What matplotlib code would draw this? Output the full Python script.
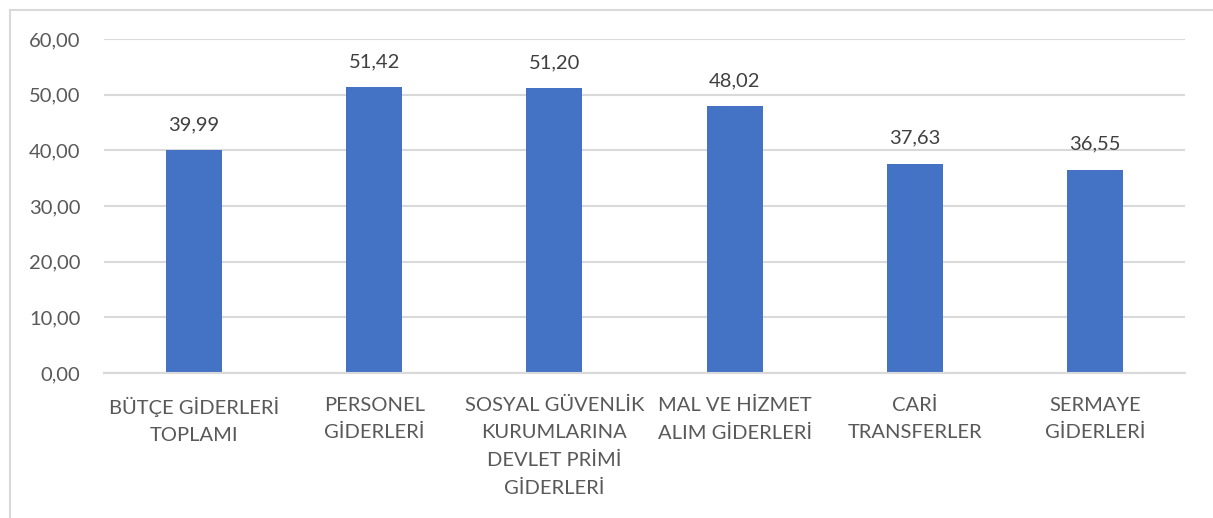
""" Bar chart of expenditure realisation rates by budget item. """

import matplotlib.pyplot as plt
from matplotlib.lines import Line2D

# Data
categories = [
    "BÜTÇE GİDERLERİ\nTOPLAMI",
    "PERSONEL\nGİDERLERİ",
    "SOSYAL GÜVENLİK\nKURUMLARINA\nDEVLET PRİMİ\nGİDERLERİ",
    "MAL VE HİZMET\nALIM GİDERLERİ",
    "CARİ\nTRANSFERLER",
    "SERMAYE\nGİDERLERİ",
]
values = [39.99, 51.42, 51.20, 48.02, 37.63, 36.55]
y_ticks = [0, 10, 20, 30, 40, 50, 60]

plt.rcParams["font.family"] = ["Lato", "DejaVu Sans"]

fig = plt.figure(figsize=(12.13, 5.18), dpi=100)
ax = fig.add_axes([104 / 1213, 1 - 373 / 518, (1185 - 104) / 1213, (373 - 39) / 518])

x = list(range(len(categories)))
bars = ax.bar(x, values, width=0.31, color="#4472C4", zorder=2)

# Data labels with comma decimal separator
for rect, v in zip(bars, values):
    ax.annotate(f"{v:.2f}".replace(".", ","),
                (rect.get_x() + rect.get_width() / 2, rect.get_height()),
                xytext=(0, 12), textcoords="offset points",
                ha="center", va="bottom", fontsize=14.5, color="#404040")

# Axes formatting
ax.set_xlim(-0.5, len(categories) - 0.5)
ax.set_ylim(0, 60)
ax.set_yticks(y_ticks)
ax.set_yticklabels([f"{t:.2f}".replace(".", ",") for t in y_ticks])
ax.set_xticks(x)
ax.set_xticklabels(categories, linespacing=1.75)
ax.tick_params(axis="y", length=0, pad=17, labelsize=14.5, labelcolor="#595959")
ax.tick_params(axis="x", length=0, pad=17, labelsize=14.5, labelcolor="#595959")
ax.grid(axis="y", color="#D9D9D9", linewidth=1.5, zorder=0)
for side in ["top", "right", "left"]:
    ax.spines[side].set_visible(False)
ax.spines["bottom"].set_color("#D9D9D9")
ax.spines["bottom"].set_linewidth(1.5)

# Chart area border (cropped on right and bottom)
fig.add_artist(Line2D([10 / 1213, 1], [1 - 10 / 518, 1 - 10 / 518],
                      transform=fig.transFigure, color="#D9D9D9", linewidth=1.5))
fig.add_artist(Line2D([10 / 1213, 10 / 1213], [0, 1 - 10 / 518],
                      transform=fig.transFigure, color="#D9D9D9", linewidth=1.5))

plt.savefig("out.png", dpi=100)
